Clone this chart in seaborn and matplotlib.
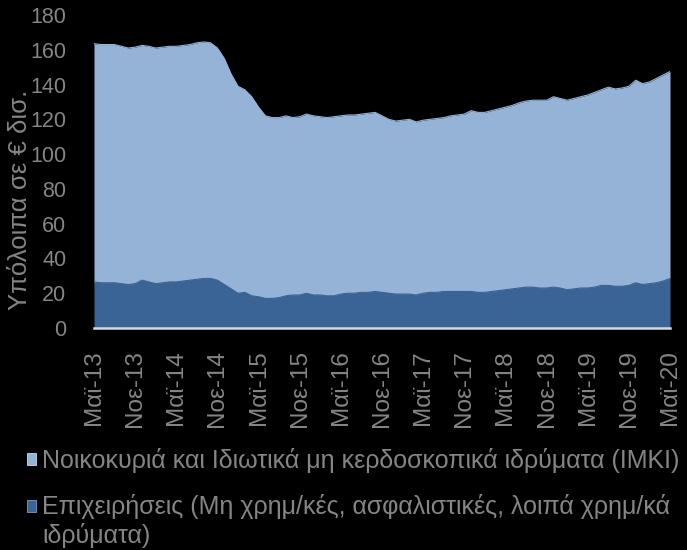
import numpy as np
import pandas as pd
import matplotlib
matplotlib.use("Agg")
import matplotlib.pyplot as plt
from matplotlib.patches import Patch, Rectangle
from matplotlib.legend_handler import HandlerPatch
import seaborn as sns

# Monthly balances, May 2013 - May 2020 (EUR bn)
firms = [26.5, 26, 26, 26, 25.5, 25, 25.5, 27.5, 26.5, 25.5, 26, 26.5, 26.5, 27, 27.5,
         28, 28.5, 28.5, 27.5, 25, 22.5, 20, 20.5, 18.5, 18, 17, 17, 17.5, 18.5, 19,
         19, 20, 19, 19, 18.5, 18.5, 19.5, 20, 20, 20.5, 20.5, 21, 20.5, 20, 19.5,
         19.5, 19.5, 19, 20, 20.5, 20.5, 21, 21, 21, 21, 21, 20.5, 20.5, 21, 21.5,
         22, 22.5, 23, 23.5, 23.5, 23, 23, 23.5, 23, 22, 22.5, 23, 23, 23.5, 24.5,
         24.5, 24, 24, 24.5, 26, 25, 25.5, 26, 27, 28.5]
households = [137, 137, 137, 137, 136.5, 136, 136, 135, 135.5, 135.5, 135.5, 135.5, 135.5, 135.5, 135.5,
              136, 136, 135.5, 133.5, 130, 123.5, 119, 116.5, 114.5, 109, 105, 104, 103.5, 103.5, 102,
              102.5, 103, 103, 102.5, 102.5, 103, 102.5, 102.5, 102.5, 102.5, 103, 103, 101.5, 100, 99.5,
              100, 100.5, 99.5, 99.5, 99.5, 100, 100, 101, 101.5, 102, 104, 103.5, 103.5, 104, 104.5,
              105, 105.5, 106.5, 107, 107.5, 108, 108, 109.5, 109, 109, 109.5, 110, 111, 112, 112.5,
              114, 113.5, 114, 114.5, 116.5, 115.5, 116, 117.5, 118.5, 119]
tick_labels = ["Μαϊ-13", "Νοε-13", "Μαϊ-14", "Νοε-14", "Μαϊ-15", "Νοε-15", "Μαϊ-16", "Νοε-16",
               "Μαϊ-17", "Νοε-17", "Μαϊ-18", "Νοε-18", "Μαϊ-19", "Νοε-19", "Μαϊ-20"]
series_names = ["Νοικοκυριά και Ιδιωτικά μη κερδοσκοπικά ιδρύματα (ΙΜΚΙ)",
                "Επιχειρήσεις (Μη χρημ/κές, ασφαλιστικές, λοιπά χρημ/κά\nιδρύματα)"]
y_label = "Υπόλοιπα σε € δισ."

LIGHT = "#95B3D7"
DARK = "#3A6496"
GREY = "#858585"

sns.set_theme(style="dark")
plt.rcParams["font.family"] = ["Liberation Sans", "DejaVu Sans"]

df = pd.DataFrame({"month": np.arange(len(firms)), "firms": firms, "households": households})
df["total"] = df["firms"] + df["households"]

fig = plt.figure(figsize=(6.87, 5.5), dpi=100, facecolor="black")
ax = fig.add_axes([94 / 687, 1 - 328 / 550, (670 - 94) / 687, (328 - 15) / 550])
ax.set_facecolor("black")

ax.fill_between(df["month"], 0, df["firms"], color=DARK, lw=0, zorder=2)
ax.fill_between(df["month"], df["firms"], df["total"], color=LIGHT, lw=0, zorder=2)
sns.lineplot(data=df, x="month", y="firms", color=DARK, lw=0.8, ax=ax, zorder=3)
sns.lineplot(data=df, x="month", y="total", color=LIGHT, lw=0.8, ax=ax, zorder=3)

ax.set_xlim(0, len(firms) - 1)
ax.set_ylim(0, 180)
ax.set_yticks(np.arange(0, 181, 20))
ax.set_xticks(np.arange(0, len(firms), 6))
ax.set_xticklabels(tick_labels, rotation=90)
ax.tick_params(axis="both", colors=GREY, length=0)
ax.tick_params(axis="y", pad=20, labelsize=15.5)
ax.tick_params(axis="x", pad=16, labelsize=17.5)
ax.set_xlabel("")
ax.set_ylabel(y_label, color=GREY, fontsize=18.5)
ax.yaxis.set_label_coords((32 - 94) / 576, (328 - 200) / 313)
ax.grid(False)
for s in ["top", "right", "left"]:
    ax.spines[s].set_visible(False)
ax.spines["bottom"].set_color("#D9D9D9")
ax.spines["bottom"].set_linewidth(1.8)
ax.spines["bottom"].set_zorder(5)


def top_aligned(legend, orig_handle, xdescent, ydescent, width, height, fontsize):
    return Rectangle((-xdescent, -ydescent + 0.6 * fontsize), width, height)


handles = [Patch(facecolor=LIGHT, edgecolor="#C8D8EC", lw=0.6),
           Patch(facecolor=DARK, edgecolor="#7A9CC6", lw=0.6)]
leg = fig.legend(handles, series_names, loc="upper left", bbox_to_anchor=(27 / 687, 0.185),
                 frameon=False, fontsize=18, labelcolor=GREY, handlelength=0.37,
                 handleheight=0.37, handletextpad=0.25, labelspacing=0.82,
                 borderaxespad=0, borderpad=0,
                 handler_map={handles[1]: HandlerPatch(patch_func=top_aligned)})

fig.savefig("out.png", dpi=100, facecolor="black")
